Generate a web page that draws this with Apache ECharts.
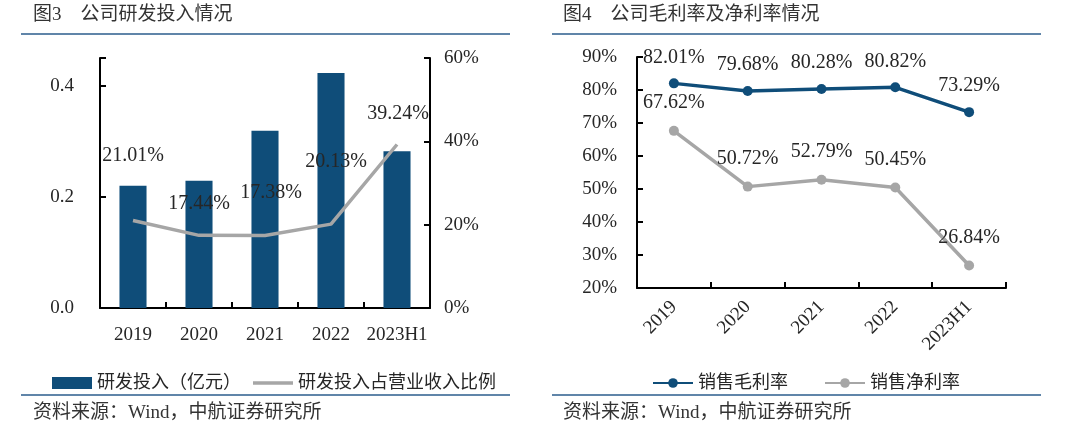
<!DOCTYPE html>
<html><head><meta charset="utf-8">
<script src="https://cdn.jsdelivr.net/npm/echarts@6/dist/echarts.min.js"></script>
<style>html,body{margin:0;padding:0;background:#fff}#c{width:1080px;height:448px}</style>
</head><body><div id="c"></div>
<script>
// ---- data ----
const years = ['2019', '2020', '2021', '2022', '2023H1'];
const rdSpend = [0.220, 0.229, 0.319, 0.423, 0.282];      // 研发投入（亿元）
const rdRatio = [21.01, 17.44, 17.38, 20.13, 39.24];      // 研发投入占营业收入比例 (%)
const grossMargin = [82.01, 79.68, 80.28, 80.82, 73.29];  // 销售毛利率 (%)
const netMargin = [67.62, 50.72, 52.79, 50.45, 26.84];    // 销售净利率 (%)

// ---- style ----
const FONT = "'Liberation Serif','Noto Sans CJK SC',serif";
const TXT = '#262626';
const BLUE = '#0f4d79';
const GRAY = '#a6a6a6';
const RULE = '#2b5c8c';
const ratioLabelOffsets = [[0, -55], [0, -22], [6, -33], [5, -52], [1, -21]];

const axisLine = { show: true, lineStyle: { color: '#000', width: 2 } };
const axisTick = { show: true, inside: true, length: 6, lineStyle: { color: '#000', width: 2 } };
const lab = (extra) => Object.assign({ color: TXT, fontFamily: FONT, fontSize: 19 }, extra || {});

const chart = echarts.init(document.getElementById('c'), null, { renderer: 'canvas' });
chart.setOption({
  backgroundColor: '#fff',
  animation: false,
  textStyle: { fontFamily: FONT },
  graphic: [
    { type: 'text', left: 33, top: 6, style: { text: '图3　公司研发投入情况', font: "19px " + FONT, fill: '#333' } },
    { type: 'text', left: 563, top: 6, style: { text: '图4　公司毛利率及净利率情况', font: "19px " + FONT, fill: '#333' } },
    { type: 'line', shape: { x1: 21, y1: 34, x2: 510, y2: 34 }, style: { stroke: RULE, lineWidth: 1.5 } },
    { type: 'line', shape: { x1: 552, y1: 34, x2: 1041, y2: 34 }, style: { stroke: RULE, lineWidth: 1.5 } },
    { type: 'line', shape: { x1: 21, y1: 395, x2: 510, y2: 395 }, style: { stroke: RULE, lineWidth: 1.5 } },
    { type: 'line', shape: { x1: 552, y1: 395, x2: 1041, y2: 395 }, style: { stroke: RULE, lineWidth: 1.5 } },
    { type: 'text', left: 33, top: 404, style: { text: '资料来源：Wind，中航证券研究所', font: "19px " + FONT, fill: '#333' } },
    { type: 'text', left: 563, top: 404, style: { text: '资料来源：Wind，中航证券研究所', font: "19px " + FONT, fill: '#333' } }
  ],
  legend: [
    {
      left: 47, top: 369, itemWidth: 40, itemHeight: 12, itemGap: 12,
      textStyle: { color: TXT, fontSize: 18, fontFamily: FONT },
      data: [
        { name: '研发投入（亿元）', icon: 'rect' },
        { name: '研发投入占营业收入比例', icon: 'path://M0,0H40V3.5H0Z' }
      ]
    },
    {
      left: 647, top: 369, itemWidth: 40, itemHeight: 12, itemGap: 36,
      textStyle: { color: TXT, fontSize: 18, fontFamily: FONT },
      data: ['销售毛利率', '销售净利率']
    }
  ],
  grid: [
    { left: 100, right: 650, top: 58, bottom: 140 },
    { left: 637, right: 74, top: 57, bottom: 160 }
  ],
  xAxis: [
    {
      type: 'category', gridIndex: 0, data: years, boundaryGap: true,
      axisLine, axisTick, axisLabel: lab({ margin: 18, interval: 0 })
    },
    {
      type: 'category', gridIndex: 1, data: years, boundaryGap: true,
      axisLine, axisTick, axisLabel: lab({ rotate: 45, margin: 16, interval: 0 })
    }
  ],
  yAxis: [
    {
      type: 'value', gridIndex: 0, min: 0, max: 0.45, interval: 0.2,
      axisLine, axisTick, splitLine: { show: false },
      axisLabel: lab({ margin: 26, formatter: v => (v > 0.41 ? '' : v.toFixed(1)) })
    },
    {
      type: 'value', gridIndex: 0, position: 'right', min: 0, max: 60, interval: 20,
      axisLine, axisTick, splitLine: { show: false },
      axisLabel: lab({ margin: 14, formatter: v => v + '%' })
    },
    {
      type: 'value', gridIndex: 1, min: 20, max: 90, interval: 10,
      axisLine, axisTick, splitLine: { show: false },
      axisLabel: lab({ margin: 20, formatter: v => v + '%' })
    }
  ],
  series: [
    {
      name: '研发投入（亿元）', type: 'bar', xAxisIndex: 0, yAxisIndex: 0,
      data: rdSpend, barWidth: '41%', itemStyle: { color: BLUE }
    },
    {
      name: '研发投入占营业收入比例', type: 'line', xAxisIndex: 0, yAxisIndex: 1,
      symbol: 'circle', symbolSize: 0.1, showSymbol: true,
      lineStyle: { color: GRAY, width: 3.5 }, itemStyle: { color: GRAY },
      data: rdRatio.map((v, i) => ({
        value: v,
        label: { show: true, position: 'top', distance: 0, offset: ratioLabelOffsets[i] }
      })),
      label: lab({ show: true, fontSize: 20, formatter: p => p.value.toFixed(2) + '%' })
    },
    {
      name: '销售毛利率', type: 'line', xAxisIndex: 1, yAxisIndex: 2,
      data: grossMargin, symbol: 'circle', symbolSize: 10,
      lineStyle: { color: BLUE, width: 3.5 }, itemStyle: { color: BLUE },
      label: lab({ show: true, fontSize: 20, position: 'top', distance: 11, formatter: p => p.value.toFixed(2) + '%' })
    },
    {
      name: '销售净利率', type: 'line', xAxisIndex: 1, yAxisIndex: 2,
      data: netMargin, symbol: 'circle', symbolSize: 10,
      lineStyle: { color: GRAY, width: 3.5 }, itemStyle: { color: GRAY },
      label: lab({ show: true, fontSize: 20, position: 'top', distance: 13, formatter: p => p.value.toFixed(2) + '%' })
    }
  ]
});
</script></body></html>
